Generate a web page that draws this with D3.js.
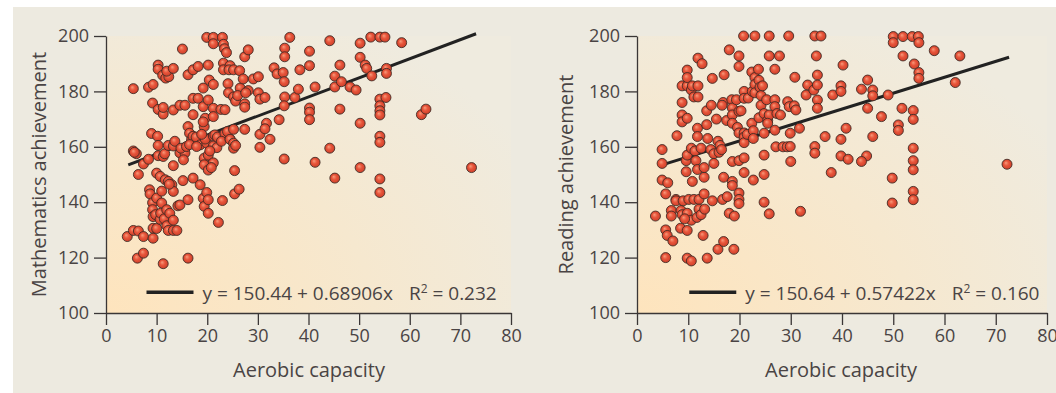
<!DOCTYPE html>
<html>
<head>
<meta charset="utf-8">
<script src="https://cdn.jsdelivr.net/npm/d3@7"></script>
<style>
  html, body { margin: 0; padding: 0; background: #fff; }
  svg { display: block; font-family: 'Open Sans', sans-serif; }
  .axis path, .axis line { stroke: #3a3636; stroke-width: 1.3; }
  .axis text { fill: #4a4444; font-size: 18px; font-family: 'Open Sans', sans-serif; }
</style>
</head>
<body>
<figure id="chart" style="margin:0"></figure>
<script>
// tick values shared by both panels
const xTicks = [0, 10, 20, 30, 40, 50, 60, 70, 80];
const yTicks = [100, 120, 140, 160, 180, 200];

// [aerobic capacity, mathematics achievement]
const mathPoints = [
  [4.2,127.6],[5.4,129.8],[6.4,129.6],[7.4,127.6],[6.2,119.8],[7.4,121.6],[5.4,181],[5.4,158.5],[6,157.5],[6.4,150],
  [7.4,153.8],[8.4,155.5],[5.6,158],
  [8.4,181.5],[9.3,182.5],[9.2,175.8],[9,164.8],[10.2,163.8],[8.6,144.5],[8.7,143],[9.2,139.8],[9.2,137.3],[9.3,134.8],
  [9.3,130.6],[9.3,127],[10,130.5],[10,141.5],[10,150.5],[9.8,135.5],
  [10.3,189.5],[10.3,188],[10.3,173.5],[11.3,171.8],[11.3,174.2],[10.3,160.5],[10.3,156.8],[11.3,156.5],[11.6,157.5],
  [10.7,149.3],[11.7,148.1],[11,139.7],[10.7,133.8],[11.3,117.8],[11,144],[10.8,136],[11.5,134],[12,131.5],[11.2,185.8],
  [11.8,184.8],[12.4,185.3],
  [12,187.3],[13.3,188.3],[12.3,160.5],[13.3,160.3],[13.3,153.2],[13.6,162],[12.3,147.5],[13,146.3],[13.3,143.9],[12,137.3],
  [12.6,136],[13.3,133.5],[12.3,129.8],[13.3,129.8],[14,129.8],[13.3,173.3],[12.5,146.5],
  [14.6,175],[15.6,175],[15.1,195.3],[14.6,157.8],[15.6,157.8],[15.3,155.3],[14.2,138.7],[14.6,139],[15.2,147.8],[14.8,159.5],
  [16.2,186],[17.2,187.8],[17.2,177.5],[17.2,171.6],[16.2,167.3],[16.5,164.9],[16.9,162.5],[15.9,160.1],[17.2,163.8],
  [16.2,140.9],[16.2,119.8],[17.2,148.7],[16.5,160.8],[17.8,163.5],
  [18.2,189],[18.2,177.5],[18.6,160.7],[17.9,160.1],[18.6,146.3],[19.2,181.2],[19.2,174.5],[19.6,170.3],[19.4,167.3],
  [19.2,169],[19.4,155.9],[19.4,153.5],[19.2,141.4],[19.4,138.5],[19.9,143.5],[19.9,161.3],[19.9,199.5],[20.2,189.5],
  [19.6,162.8],[18.9,164.5],
  [20.2,176.9],[20.4,184.1],[21.2,182.5],[21.2,173.9],[21.2,170.9],[20.2,157],[20.2,151.6],[21.2,154.2],[21.2,163.9],
  [21.2,160.3],[21.9,159.7],[20.2,140.9],[20.2,136],[21.2,199.5],[21.2,197.2],[20.5,158.5],[20.8,152.5],[22.2,132.7],
  [21.5,164.3],[22,163.5],
  [23,199.5],[23.2,197],[23.4,195.4],[23.2,190.2],[23.2,187.8],[22.7,173.5],[23.5,173.4],[23,140.6],[23.5,164.8],[22.8,162],
  [24.1,182.8],[24.2,179.5],[24.5,189.3],[24.3,187.8],[23.8,194],[24.5,162.8],[24,165.5],
  [25.2,187.8],[25.2,178],[25.6,176.5],[25.2,166.3],[24.5,162.7],[25.2,161.3],[25.2,159.5],[25.4,151.4],[25.4,143],
  [26.3,144.7],[26.4,187.5],[26.5,181.2],[26,178.5],[25.6,160.5],
  [27.1,184.5],[27.4,175.5],[27.4,174.3],[28.1,180.3],[27.4,166.3],[27.4,192.5],[28.1,195],[27.6,179.5],[29.1,184.5],
  [30.1,185.3],[30.1,179.5],[30.4,177.2],[31.4,177.8],[30.4,164.5],[30.4,159.8],
  [31.7,168.5],[31.4,166.5],[32.4,162.7],[33.2,188.5],[33.8,186.3],[34.2,169.8],[35.3,195.6],[35.3,192.5],[35,186.8],
  [35.2,183.5],[35.3,178],[35.2,174.8],[35.2,155.6],
  [36.3,199.5],[37.3,177.8],[38,180.8],[38.3,187.8],[40.2,194.5],[40.2,189.3],[40.2,174],[40.2,172.5],[40.2,169.8],
  [41.3,181.6],[41.3,154.4],[44.2,198.3],[44.2,159.5],[45.2,185.5],[45.2,181.6],[45.2,148.7],[46.5,183.5],[46.2,189.5],
  [46.2,173.6],[48.2,181.6],[49.4,180.5],
  [50.2,197.4],[50.2,192.3],[51.2,189.5],[51.5,188.3],[52.5,185.6],[52.3,199.6],[54.1,199.6],[55.1,199.6],[58.4,197.6],
  [55.4,188.3],[55.4,186.5],[50.2,168.5],[50.2,152.5],[54.1,177.2],[54.1,174.8],[54.1,173],[54.1,171.5],[55.3,177.8],
  [54.1,163.8],[54.1,161.6],[54.1,148.4],[54.1,143.5],[62.3,171.6],[63.2,173.6],[72.2,152.5]
];

// [aerobic capacity, reading achievement]
const readingPoints = [
  [3.6,135],[4.9,159],[4.9,154],[4.9,148],[5.6,143],[6,147],[5.6,130],[5.9,128],[5.6,120],[6.7,137],[6.7,135],[7,126],
  [7.6,141],[7.8,164],[8.5,130.6],[7.6,140.5],
  [8.8,182],[9.8,182],[8.8,176],[8.8,171.5],[8.8,169],[9.8,170.3],[9.8,187.7],[9.8,185],[8.6,137],[8.8,135.5],[9,140.5],
  [9.8,129.8],[9.8,136],[10.1,141],[9.6,155],[9.6,151],[9.8,157],[9.8,119.8],[10.6,118.8],[10.6,180.5],[10.8,182],
  [11.1,141],[10.6,133.5],[10.8,147.5],[10.6,159.5],[9.3,134],
  [11.1,178],[11.9,178],[11.9,182],[11.9,192],[12.7,190],[11.8,166.7],[11.8,163.7],[11.3,158.5],[11.5,155],[11.8,151.8],
  [12.1,141],[12.1,137.5],[11.7,134.5],[12.5,135.5],[13.1,143],[13.1,149],[12.9,128],[13.6,168],[13.1,152.5],[12.5,159.5],
  [13.7,119.8],[13.2,137.5],[13.6,173],
  [14.7,184.7],[14.5,175],[13.8,163],[14.4,159],[15,157.5],[15,154],[14.7,140.5],[15.5,170],[15.8,162],[16.2,160.5],
  [16,158],[16.5,159],[15.8,123],[16.9,149],[16.7,141],[16.9,125.8],[17,186],[16.8,176],[16.6,175],
  [18,195],[17.6,142],[18,136],[19,135],[17.5,169.5],[18.5,177],[18.6,174],[18.6,171.5],[18.6,168.5],[18.6,154.7],
  [18.6,147.5],[18.6,146],[18.9,123],[19.9,192.8],[19.9,189],[19.4,177],[19.9,172.8],[19.6,167],[19.9,165],[19.9,155],
  [19.9,143.3],[19.9,141],[19.9,139.5],
  [20.8,200],[20.9,180],[20.9,177.5],[20.3,173],[20.9,165],[20.9,163.5],[20.9,161.5],[21.5,164.5],[20.9,156],[20.9,150.7],
  [22.7,148],[22.4,168.5],[22.7,165.8],[22.7,163],[21.7,177.6],[22.5,180],[22.4,187],[23,200],[23,185],[23,182.5],[23,179.5],
  [23.7,188],[23.8,184],[24,181.5],[24.2,178.5],[24.5,182],[24.2,175],[23.8,170.5],[24.8,172],[24.8,164.9],[24.8,157],
  [24.8,150],[24.8,140],[25.8,135.8],[25.8,200],[25.8,192.8],[25.3,177],[25.5,169.5],[25.8,171.5],[25.5,168.5],
  [26.9,188],[27.8,192.8],[26.9,177],[26.9,174.5],[27.3,172],[28,171.5],[26.9,166],[27.1,160],[28.5,160],[29.3,160],
  [29.6,200],[29.4,176.3],[29.7,174.5],[29.9,164.9],[29.9,160.1],[30,154.7],
  [30.8,185.1],[30.7,174.8],[31,173.3],[31.7,166.7],[31.9,136.7],[33.3,182.3],[33,178.7],[34.5,180.5],[34.7,200],[35.9,200],
  [35,192.8],[35.2,185.9],[35.2,182.3],[35.2,176.9],[35.2,173.9],[34.7,160.1],[34.7,157.7],[36.7,163.7],[37.9,150.7],
  [38.2,178.7],[39.8,182],[39.8,180],[40.2,189.5],[39.8,162.7],[39.8,156.7],
  [40.8,166.7],[41.2,155.5],[43.8,180.8],[45,184.1],[45,173.9],[46,180.5],[46,178.4],[44.8,156.7],[43.8,154.7],[46,163.7],
  [47.7,170.9],[49,178.7],[49.8,148.7],[49.8,139.7],[50,199.8],[50,197.6],
  [51.9,199.8],[53.7,199.8],[54.9,199.8],[55,197.6],[51.9,192.8],[54.1,189.9],[55,186.8],[55,184.7],[58,194.7],[63,192.8],
  [62.1,183.2],[51.7,173.9],[53.9,173.1],[53.9,169.9],[51,167.9],[51,165.9],[53.9,159.5],[53.9,155],[53.9,151.7],
  [53.9,143.9],[53.9,140.9],[72.2,153.7]
];

// regression lines: intercept, slope, x start, x end
const fitIntercepts = [150.44, 150.64];
const fitSlopes = [0.68906, 0.57422];
const fitFrom = [4.4, 5.7];
const fitTo = [73.1, 72.6];
const fitLabels = ['y = 150.44 + 0.68906x', 'y = 150.64 + 0.57422x'];
const r2Labels = [' = 0.232', ' = 0.160'];
const yTitles = ['Mathematics achievement', 'Reading achievement'];
const xTitle = 'Aerobic capacity';

const width = 1056;
const height = 393;

const svg = d3.select('figure#chart')
  .append('svg')
  .attr('width', width)
  .attr('height', height);

const defs = svg.append('defs');

const glow = defs.append('radialGradient')
  .attr('id', 'plotFill')
  .attr('cx', '0%').attr('cy', '100%').attr('r', '120%');
glow.append('stop').attr('offset', '0%').attr('stop-color', '#fee4bd');
glow.append('stop').attr('offset', '55%').attr('stop-color', '#f6e8cf');
glow.append('stop').attr('offset', '100%').attr('stop-color', '#efebdf');

const ball = defs.append('radialGradient')
  .attr('id', 'ball')
  .attr('cx', '50%').attr('cy', '50%').attr('r', '55%')
  .attr('fx', '38%').attr('fy', '35%');
ball.append('stop').attr('offset', '0%').attr('stop-color', '#f79b7c');
ball.append('stop').attr('offset', '45%').attr('stop-color', '#e8553b');
ball.append('stop').attr('offset', '100%').attr('stop-color', '#c83c27');

// beige page background
svg.append('rect')
  .attr('x', 13).attr('y', 7)
  .attr('width', width - 13).attr('height', height - 7)
  .attr('fill', '#edeae0');

const panels = [
  { points: mathPoints, left: 106, right: 511, titleX: 46, xTitleX: 309 },
  { points: readingPoints, left: 637, right: 1047, titleX: 573, xTitleX: 841 }
];
const plotTop = 36;
const plotBottom = 313;

panels.forEach((p, i) => {
  const x = d3.scaleLinear().domain([0, 80]).range([p.left, p.right]);
  const y = d3.scaleLinear().domain([100, 200]).range([plotBottom, plotTop]);

  svg.append('rect')
    .attr('x', p.left).attr('y', plotTop)
    .attr('width', p.right - p.left).attr('height', plotBottom - plotTop)
    .attr('fill', 'url(#plotFill)');

  svg.append('g')
    .attr('class', 'axis axis-y')
    .attr('transform', `translate(${p.left},0)`)
    .call(d3.axisLeft(y).tickValues(yTicks).tickSize(12).tickSizeOuter(0).tickPadding(5));

  svg.append('g')
    .attr('class', 'axis axis-x')
    .attr('transform', `translate(0,${plotBottom})`)
    .call(d3.axisBottom(x).tickValues(xTicks).tickSize(12).tickSizeOuter(0).tickPadding(4));

  // fitted line
  const line = d3.line().x(d => x(d)).y(d => y(fitIntercepts[i] + fitSlopes[i] * d));
  svg.append('path')
    .attr('d', line([fitFrom[i], fitTo[i]]))
    .attr('fill', 'none')
    .attr('stroke', '#222')
    .attr('stroke-width', 3);

  svg.append('g')
    .selectAll('circle')
    .data(p.points)
    .enter()
    .append('circle')
    .attr('cx', d => x(d[0]))
    .attr('cy', d => y(d[1]))
    .attr('r', 5)
    .attr('fill', 'url(#ball)')
    .attr('stroke', '#3d2a24')
    .attr('stroke-opacity', 0.85)
    .attr('stroke-width', 1);

  // legend
  const lx = i === 0 ? x(8) : x(10.2);
  const ly = y(107.5);
  svg.append('line')
    .attr('x1', lx).attr('x2', lx + 47)
    .attr('y1', ly).attr('y2', ly)
    .attr('stroke', '#222').attr('stroke-width', 3.5);
  const t = svg.append('text')
    .attr('x', lx + 56).attr('y', ly + 8)
    .attr('fill', '#4a4444')
    .style('font-size', '19px');
  t.append('tspan').text(fitLabels[i]);
  t.append('tspan').attr('dx', 16).text('R');
  t.append('tspan').attr('dy', -7).style('font-size', '12px').text('2');
  t.append('tspan').attr('dy', 7).text(r2Labels[i]);

  // axis titles
  svg.append('text')
    .attr('transform', `translate(${p.titleX},${(plotTop + plotBottom) / 2}) rotate(-90)`)
    .attr('text-anchor', 'middle')
    .attr('fill', '#4a4444')
    .style('font-size', '20px')
    .text(yTitles[i]);

  svg.append('text')
    .attr('x', p.xTitleX).attr('y', 377)
    .attr('text-anchor', 'middle')
    .attr('fill', '#4a4444')
    .style('font-size', '20px')
    .text(xTitle);
});
</script>
</body>
</html>
